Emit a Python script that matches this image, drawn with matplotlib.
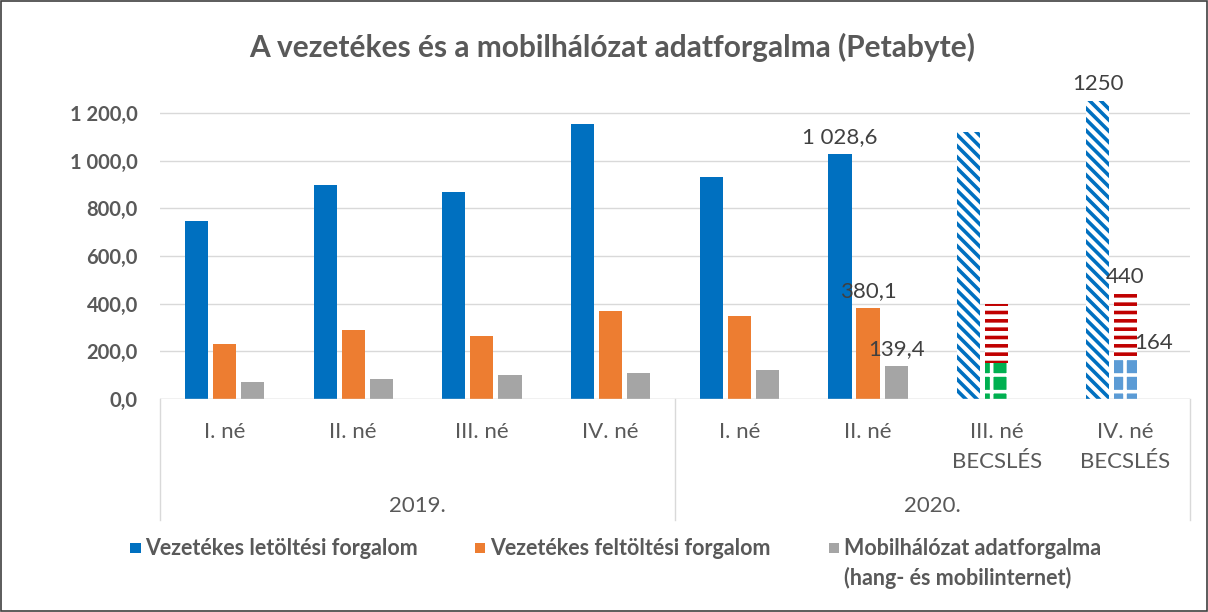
import matplotlib.pyplot as plt
import numpy as np

plt.rcParams["font.family"] = ["Lato", "DejaVu Sans"]
plt.rcParams["hatch.linewidth"] = 2.6

quarters = ["I. né", "II. né", "III. né", "IV. né", "I. né", "II. né", "III. né\nBECSLÉS", "IV. né\nBECSLÉS"]
years = ["2019.", "2020."]
download = [746, 898, 870, 1155, 933, 1028.6, 1120, 1250]
upload = [233, 290, 265, 368, 347, 380.1, 400, 440]
mobile = [72, 85, 100, 110, 122, 139.4, 151, 164]
labels_dl = {5: "1 028,6", 7: "1250"}
labels_ul = {5: "380,1", 7: "440"}
labels_mo = {5: "139,4", 7: "164"}

blue = "#0070C0"
orange = "#ED7D31"
gray = "#A5A5A5"
text_gray = "#595959"

fig = plt.figure(figsize=(12.08, 6.12), dpi=100)
ax = fig.add_axes([0.1325, 0.348, 0.8525, 0.506])

x = np.arange(len(quarters))
w = 0.18
step = 0.218
n_real = 6

# measured bars
ax.bar(x[:n_real] - step, download[:n_real], w, color=blue)
ax.bar(x[:n_real], upload[:n_real], w, color=orange)
ax.bar(x[:n_real] + step, mobile[:n_real], w, color=gray)

# estimates (patterned)
ax.bar(x[n_real:] - step, download[n_real:], w, facecolor="white", edgecolor=blue, hatch="\\\\\\", linewidth=0)
ax.bar(x[n_real:], upload[n_real:], w, facecolor="white", edgecolor="#C00000", hatch="--", linewidth=0)
ax.bar(x[n_real], mobile[n_real], w, facecolor="#00B050", edgecolor="white", hatch="+", linewidth=0)
ax.bar(x[n_real + 1], mobile[n_real + 1], w, facecolor="#5B9BD5", edgecolor="white", hatch="+", linewidth=0)

lab_kw = dict(textcoords="offset points", ha="center", va="bottom", fontsize=16, color="#404040")
for i, t in labels_dl.items():
    ax.annotate(t, (x[i] - step, download[i]), xytext=(0, 5), **lab_kw)
for i, t in labels_ul.items():
    ax.annotate(t, (x[i], upload[i]), xytext=(0, 5), **lab_kw)
for i, t in labels_mo.items():
    ax.annotate(t, (x[i] + step, mobile[i]), xytext=(0, 5), **lab_kw)

ax.set_xlim(-0.5, len(quarters) - 0.5)
ax.set_ylim(0, 1300)
ax.set_yticks(np.arange(0, 1201, 200))
ax.set_yticklabels([f"{v:,.1f}".replace(",", " ").replace(".", ",") for v in np.arange(0, 1201, 200)],
                   fontsize=14.5, fontweight="bold", color=text_gray)
ax.tick_params(axis="y", length=0, pad=16)
ax.set_xticks([])
for s in ax.spines.values():
    s.set_visible(False)
ax.grid(axis="y", color="#D9D9D9", linewidth=1)
ax.set_axisbelow(True)
ax.axhline(0, color="#D9D9D9", linewidth=1)

# multi-level category axis
tr = ax.get_xaxis_transform()
for i, q in enumerate(quarters):
    ax.text(x[i], -0.075, q, transform=tr, ha="center", va="top", fontsize=16,
            color=text_gray, linespacing=1.6)
for j, yr in enumerate(years):
    ax.text(x[j * 4] + 1.5, -0.345, yr, transform=tr, ha="center", va="center", fontsize=16, color=text_gray)
for xs in [-0.5, 3.5, 7.5]:
    ax.plot([xs, xs], [0, -0.39], transform=tr, color="#D9D9D9", linewidth=1, clip_on=False)

fig.suptitle("A vezetékes és a mobilhálózat adatforgalma (Petabyte)", x=0.507, y=0.947,
             fontsize=21.5, fontweight="bold", color=text_gray)

# legend
leg_items = [(blue, "Vezetékes letöltési forgalom", 0.108),
             (orange, "Vezetékes feltöltési forgalom", 0.393),
             (gray, "Mobilhálózat adatforgalma\n(hang- és mobilinternet)", 0.686)]
for col, txt, lx in leg_items:
    fig.patches.append(plt.Rectangle((lx, 0.096), 0.0085, 0.017, transform=fig.transFigure,
                                     facecolor=col, edgecolor="none"))
    fig.text(lx + 0.0125, 0.121 if "\n" in txt else 0.104, txt, ha="left",
             va="top" if "\n" in txt else "center",
             fontsize=15.5, fontweight="bold", color=text_gray, linespacing=1.45,
             transform=fig.transFigure)

fig.patches.append(plt.Rectangle((0.001, 0.001), 0.998, 0.997, transform=fig.transFigure,
                                 facecolor="none", edgecolor="#404040", linewidth=1.2))

fig.savefig("out.png", dpi=100)
